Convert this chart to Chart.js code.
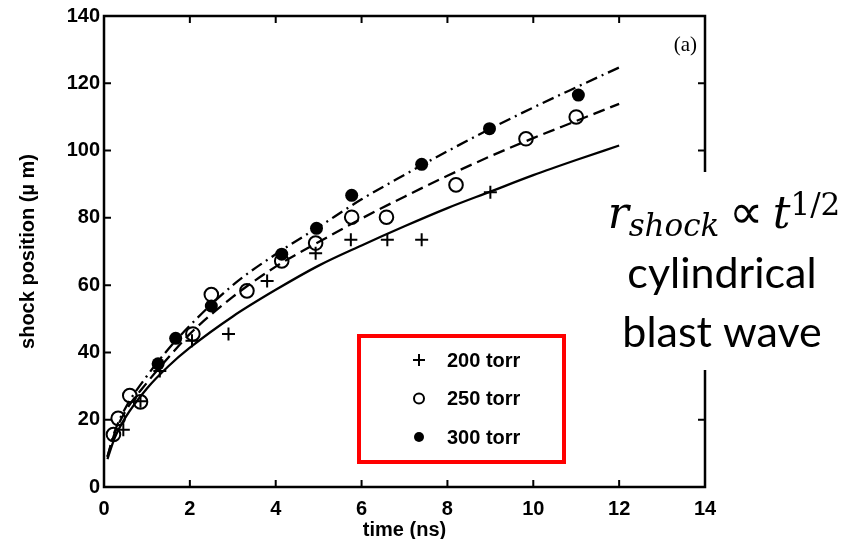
<!DOCTYPE html>
<html>
<head>
<meta charset="utf-8">
<script src="https://cdn.jsdelivr.net/npm/chart.js@4/dist/chart.umd.min.js"></script>
<style>
  html, body { margin: 0; padding: 0; background: #fff; }
  #wrap { width: 853px; height: 539px; }
</style>
</head>
<body>
<div id="wrap"><canvas id="shockChart" width="853" height="539"></canvas></div>
<script>
// Measured shock front positions (um) against time (ns), per fill pressure
var time200 = [0.45, 0.85, 1.3, 2.05, 2.9, 3.8, 4.93, 5.75, 6.6, 7.4, 9.0];
var pos200  = [17, 25.5, 34.5, 43.5, 45.5, 61.2, 69.5, 73.5, 73.5, 73.5, 87.6];

var time250 = [0.22, 0.33, 0.6, 0.85, 2.07, 2.5, 3.33, 4.14, 4.93, 5.77, 6.58, 8.2, 9.83, 11.0];
var pos250  = [15.6, 20.4, 27.2, 25.3, 45.5, 57.2, 58.3, 67.2, 72.5, 80.2, 80.2, 89.8, 103.5, 110];

var time300 = [1.26, 1.67, 2.5, 4.14, 4.95, 5.77, 7.4, 8.98, 11.05];
var pos300  = [36.6, 44.2, 53.8, 69.2, 76.9, 86.7, 95.9, 106.5, 116.5];

// Fitted curves (solid = 200, dashed = 250, dash-dot = 300 torr)
var fitTime = [0.08, 0.25, 0.5, 1, 1.5, 2, 3, 4, 5, 6, 7, 8, 9, 10, 11, 12];
var fit200  = [8.3, 14.6, 20.7, 29.3, 35.9, 41.4, 50.7, 58.6, 65.8, 71.8, 77.5, 82.9, 87.8, 92.7, 97.2, 101.5];
var fit250  = [9.0, 16.0, 22.5, 31.0, 38.5, 45.5, 56.5, 65.5, 72.8, 79.8, 86.3, 92.5, 98.3, 103.7, 108.8, 113.9];
var fit300  = [9.0, 16.5, 23.5, 33.0, 41.0, 48.0, 60.0, 69.2, 77.3, 85.5, 92.8, 99.8, 106.5, 112.8, 118.8, 124.7];

var xTicks = [0, 2, 4, 6, 8, 10, 12, 14];
var yTicks = [0, 20, 40, 60, 80, 100, 120, 140];
var seriesLabels = ['200 torr', '250 torr', '300 torr'];

function pairs(xs, ys) {
    return xs.map(function(x, i) { return { x: x, y: ys[i] }; });
}

var BOLD = '"Liberation Sans", Arial, sans-serif';
var MATH = '"DejaVu Serif", serif';

// draw one marker like the plotted symbols
function marker(ctx, kind, x, y, r) {
    ctx.save();
    ctx.strokeStyle = '#000';
    ctx.fillStyle = '#000';
    ctx.lineWidth = 2;
    ctx.beginPath();
    if (kind === 0) {
        ctx.moveTo(x - r, y); ctx.lineTo(x + r, y);
        ctx.moveTo(x, y - r); ctx.lineTo(x, y + r);
        ctx.stroke();
    } else if (kind === 1) {
        ctx.arc(x, y, r - 1, 0, Math.PI * 2);
        ctx.stroke();
    } else {
        ctx.arc(x, y, r - 1, 0, Math.PI * 2);
        ctx.fill();
    }
    ctx.restore();
}

var framePlugin = {
    id: 'frameAndNotes',
    afterDraw: function(chart) {
        var ctx = chart.ctx;
        var a = chart.chartArea;
        var sx = chart.scales.x, sy = chart.scales.y;
        ctx.save();

        // box frame with inward ticks on all four sides
        ctx.strokeStyle = '#000';
        ctx.lineWidth = 2.5;
        ctx.strokeRect(a.left, a.top, a.right - a.left, a.bottom - a.top);
        ctx.lineWidth = 2;
        ctx.beginPath();
        xTicks.slice(1, -1).forEach(function(v) {
            var px = sx.getPixelForValue(v);
            ctx.moveTo(px, a.bottom); ctx.lineTo(px, a.bottom - 7);
            ctx.moveTo(px, a.top); ctx.lineTo(px, a.top + 7);
        });
        yTicks.slice(1, -1).forEach(function(v) {
            var py = sy.getPixelForValue(v);
            ctx.moveTo(a.left, py); ctx.lineTo(a.left + 7, py);
            ctx.moveTo(a.right, py); ctx.lineTo(a.right - 7, py);
        });
        ctx.stroke();

        // axis titles
        ctx.fillStyle = '#000';
        ctx.font = 'bold 20px ' + BOLD;
        ctx.textAlign = 'center';
        ctx.textBaseline = 'middle';
        ctx.fillText('time (ns)', (a.left + a.right) / 2, 530);
        ctx.save();
        ctx.translate(28, (a.top + a.bottom) / 2);
        ctx.rotate(-Math.PI / 2);
        ctx.fillText('shock position (\u00b5 m)', 0, 0);
        ctx.restore();

        // panel tag
        ctx.font = '21px "Liberation Serif", "Times New Roman", serif';
        ctx.textAlign = 'right';
        ctx.fillText('(a)', 697, 45);

        // legend in a red box
        ctx.strokeStyle = '#ff0000';
        ctx.lineWidth = 4;
        ctx.strokeRect(359, 336, 205, 126);
        ctx.font = 'bold 20px ' + BOLD;
        ctx.textAlign = 'left';
        ctx.fillStyle = '#000';
        seriesLabels.forEach(function(lbl, i) {
            var yy = 360 + i * 38.5;
            marker(ctx, i, 419, yy, 6);
            ctx.fillText(lbl, 447, yy + 1);
        });

        // scaling-law note to the right
        ctx.fillStyle = '#fff';
        ctx.fillRect(612, 172, 241, 198);
        ctx.fillStyle = '#000';
        var parts = [
            { t: 'r', f: 'italic 44px ' + MATH, dy: 0 },
            { t: 'shock', f: 'italic 31px ' + MATH, dy: 8 },
            { t: ' ', f: '30px ' + MATH, dy: 0 },
            { t: '\u221d', f: '48px "DejaVu Sans", sans-serif', dy: 0 },
            { t: ' ', f: '30px ' + MATH, dy: 0 },
            { t: 't', f: 'italic 44px ' + MATH, dy: 0 },
            { t: '1/2', f: '31px ' + MATH, dy: -13 }
        ];
        var total = 0;
        parts.forEach(function(p) { ctx.font = p.f; p.w = ctx.measureText(p.t).width; total += p.w; });
        var cx = 724 - total / 2;
        ctx.textAlign = 'left';
        ctx.textBaseline = 'alphabetic';
        parts.forEach(function(p) { ctx.font = p.f; ctx.fillText(p.t, cx, 228 + p.dy); cx += p.w; });

        ctx.font = '43px Lato, "Open Sans", sans-serif';
        ctx.textAlign = 'center';
        ctx.fillText('cylindrical', 722, 288);
        ctx.fillText('blast wave', 722, 347);
        ctx.restore();
    }
};

var ctx = document.getElementById('shockChart').getContext('2d');
var shockChart = new Chart(ctx, {
    type: 'scatter',
    data: {
        datasets: [{
            label: seriesLabels[0],
            data: pairs(time200, pos200),
            pointStyle: 'cross',
            pointRadius: 6.5,
            pointBorderWidth: 2,
            borderColor: '#000',
            backgroundColor: '#000'
        }, {
            label: seriesLabels[1],
            data: pairs(time250, pos250),
            pointStyle: 'circle',
            pointRadius: 6.8,
            pointBorderWidth: 2,
            borderColor: '#000',
            backgroundColor: 'rgba(0,0,0,0)'
        }, {
            label: seriesLabels[2],
            data: pairs(time300, pos300),
            pointStyle: 'circle',
            pointRadius: 6.5,
            pointBorderWidth: 0,
            borderColor: '#000',
            backgroundColor: '#000'
        }, {
            label: 'fit 200',
            type: 'line',
            data: pairs(fitTime, fit200),
            borderColor: '#000',
            borderWidth: 2.3,
            pointRadius: 0,
            cubicInterpolationMode: 'monotone',
            fill: false
        }, {
            label: 'fit 250',
            type: 'line',
            data: pairs(fitTime, fit250),
            borderColor: '#000',
            borderWidth: 2.3,
            borderDash: [12, 6],
            pointRadius: 0,
            cubicInterpolationMode: 'monotone',
            fill: false
        }, {
            label: 'fit 300',
            type: 'line',
            data: pairs(fitTime, fit300),
            borderColor: '#000',
            borderWidth: 2.3,
            borderDash: [12, 5, 2, 5],
            pointRadius: 0,
            cubicInterpolationMode: 'monotone',
            fill: false
        }]
    },
    options: {
        responsive: false,
        animation: false,
        devicePixelRatio: 1,
        layout: {
            padding: { top: 13, right: 148, left: 0, bottom: 0 }
        },
        plugins: {
            legend: { display: false },
            tooltip: { enabled: false }
        },
        scales: {
            x: {
                type: 'linear',
                min: 0,
                max: 14,
                afterBuildTicks: function(scale) {
                    scale.ticks = xTicks.map(function(v) { return { value: v }; });
                },
                afterFit: function(scale) { scale.height = 52; },
                grid: { display: false, drawTicks: false },
                border: { display: false },
                ticks: {
                    padding: 10,
                    color: '#000',
                    font: { family: BOLD, size: 20, weight: 'bold' }
                }
            },
            y: {
                type: 'linear',
                min: 0,
                max: 140,
                afterBuildTicks: function(scale) {
                    scale.ticks = yTicks.map(function(v) { return { value: v }; });
                },
                afterFit: function(scale) { scale.width = 104; },
                grid: { display: false, drawTicks: false },
                border: { display: false },
                ticks: {
                    padding: 4,
                    color: '#000',
                    font: { family: BOLD, size: 20, weight: 'bold' }
                }
            }
        }
    },
    plugins: [framePlugin]
});
</script>
</body>
</html>
